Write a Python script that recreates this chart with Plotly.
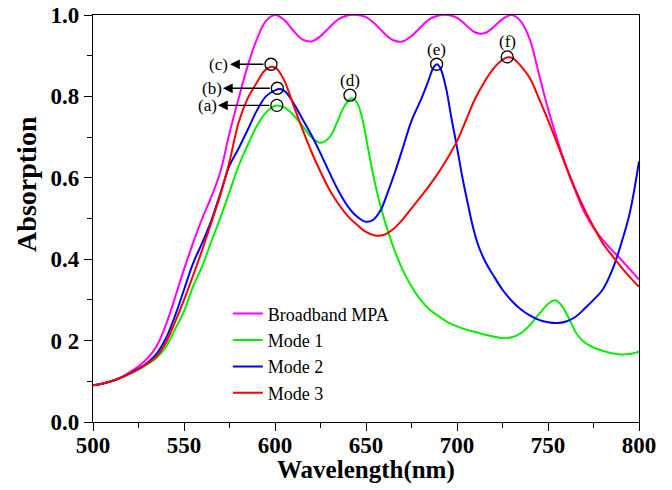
import plotly.graph_objects as go

# ---------------- data ----------------
mpa_x = [500, 505, 510, 515, 520, 525, 530, 535, 540, 545, 550, 555, 560, 565, 570, 575, 580, 585, 590,
         595, 600, 605, 610, 615, 620, 625, 630, 635, 640, 645, 650, 655, 660, 665, 670, 675, 680, 685,
         690, 695, 700, 705, 710, 715, 720, 725, 730, 735, 740, 745, 750, 755, 760, 765, 770, 775, 780,
         785, 790, 795, 800]
mpa_y = [0.090, 0.094, 0.100, 0.109, 0.122, 0.137, 0.157, 0.187, 0.238, 0.305, 0.375, 0.44, 0.50, 0.553,
         0.615, 0.71, 0.795, 0.875, 0.94, 0.985, 1.0, 0.988, 0.962, 0.94, 0.935, 0.948, 0.97, 0.99, 0.999,
         1.0, 0.995, 0.978, 0.955, 0.938, 0.935, 0.948, 0.97, 0.99, 0.999, 1.0, 0.993, 0.975, 0.957, 0.955,
         0.97, 0.99, 1.0, 0.985, 0.94, 0.855, 0.77, 0.695, 0.627, 0.568, 0.515, 0.477, 0.448, 0.423, 0.40,
         0.375, 0.35]

m1_x = [500, 505, 510, 515, 520, 525, 530, 535, 540, 545, 550, 555, 560, 565, 570, 575, 580, 585, 590,
        595, 600, 605, 610, 615, 620, 625, 630, 634, 638, 642, 645, 648, 651, 655, 660, 665, 670, 675,
        680, 685, 690, 695, 700, 705, 710, 715, 720, 725, 730, 735, 740, 745, 750, 754, 758, 762, 766,
        770, 775, 780, 785, 790, 795, 800]
m1_y = [0.09, 0.094, 0.10, 0.108, 0.118, 0.129, 0.142, 0.158, 0.184, 0.227, 0.272, 0.333, 0.383, 0.443,
        0.502, 0.565, 0.629, 0.68, 0.727, 0.76, 0.777, 0.773, 0.755, 0.728, 0.70, 0.686, 0.70, 0.735, 0.775,
        0.795, 0.785, 0.745, 0.675, 0.585, 0.498, 0.43, 0.375, 0.333, 0.30, 0.276, 0.26, 0.245, 0.235,
        0.227, 0.221, 0.215, 0.21, 0.206, 0.208, 0.218, 0.238, 0.265, 0.29, 0.299, 0.283, 0.25, 0.215,
        0.196, 0.183, 0.175, 0.169, 0.166, 0.167, 0.173]

m2_x = [500, 505, 510, 515, 520, 525, 530, 535, 540, 545, 550, 555, 560, 565, 570, 575, 580, 585, 590,
        595, 600, 603, 606, 610, 615, 620, 625, 630, 635, 640, 645, 650, 654, 658, 662, 666, 670, 675,
        680, 684, 687, 689, 691, 694, 697, 700, 703, 706, 709, 712, 716, 720, 725, 730, 735, 740, 745,
        750, 755, 760, 765, 770, 775, 780, 785, 790, 795, 800]
m2_y = [0.09, 0.094, 0.10, 0.108, 0.119, 0.131, 0.146, 0.168, 0.205, 0.26, 0.325, 0.39, 0.44, 0.495,
        0.562, 0.63, 0.672, 0.718, 0.765, 0.80, 0.815, 0.818, 0.81, 0.785, 0.745, 0.705, 0.66, 0.612,
        0.567, 0.53, 0.505, 0.492, 0.497, 0.52, 0.565, 0.615, 0.67, 0.74, 0.79, 0.835, 0.87, 0.879, 0.868,
        0.82, 0.745, 0.675, 0.60, 0.535, 0.475, 0.43, 0.39, 0.36, 0.325, 0.298, 0.277, 0.262, 0.251,
        0.245, 0.243, 0.247, 0.258, 0.278, 0.30, 0.325, 0.37, 0.435, 0.515, 0.64]

m3_x = [500, 505, 510, 515, 520, 525, 530, 535, 540, 545, 550, 555, 560, 565, 570, 575, 580, 585, 590,
        594, 598, 601, 605, 610, 615, 620, 625, 630, 635, 640, 645, 650, 655, 660, 665, 670, 675, 680,
        685, 690, 695, 700, 705, 710, 715, 720, 725, 728, 731, 735, 740, 745, 750, 755, 760, 765, 770,
        775, 780, 785, 790, 795, 800]
m3_y = [0.09, 0.094, 0.10, 0.108, 0.118, 0.13, 0.144, 0.162, 0.195, 0.245, 0.30, 0.36, 0.423, 0.49,
        0.558, 0.64, 0.736, 0.795, 0.834, 0.862, 0.873, 0.868, 0.84, 0.78, 0.72, 0.664, 0.615, 0.57,
        0.535, 0.506, 0.485, 0.467, 0.458, 0.46, 0.474, 0.497, 0.525, 0.553, 0.582, 0.614, 0.65, 0.69,
        0.742, 0.795, 0.835, 0.868, 0.89, 0.896, 0.893, 0.875, 0.845, 0.795, 0.742, 0.685, 0.627, 0.572,
        0.523, 0.48, 0.44, 0.41, 0.382, 0.356, 0.332]

series_names = ["Broadband MPA", "Mode 1", "Mode 2", "Mode 3"]
series_colors = ["#FF00FF", "#00EE00", "#0000FF", "#FF0000"]

# marked peaks
peak_labels = ["(a)", "(b)", "(c)", "(d)", "(e)", "(f)"]
peak_x = [601, 601.3, 597.8, 641.2, 688.8, 727.6]
peak_y = [0.778, 0.82, 0.879, 0.803, 0.879, 0.897]
# left-pointing arrow tips / label centers for (a),(b),(c)
arrow_tip_x = [568.7, 571.4, 575.3]
arrow_label_x = [562.9, 565.2, 569.2]

y_tickvals = [0.0, 0.2, 0.4, 0.6, 0.8, 1.0]
y_ticktext = ["0.0", "0 2", "0.4", "0.6", "0.8", "1.0"]
x_tickvals = [500, 550, 600, 650, 700, 750, 800]

SERIF = "Liberation Serif, Times New Roman, Times, serif"

# ---------------- figure ----------------
fig = go.Figure()
for xs, ys, name, col in zip([mpa_x, m1_x, m2_x, m3_x], [mpa_y, m1_y, m2_y, m3_y],
                             series_names, series_colors):
    fig.add_trace(go.Scatter(x=xs, y=ys, mode="lines", name=name,
                             line=dict(color=col, width=2, shape="spline", smoothing=1.0)))

# circles at peaks
for px, py in zip(peak_x, peak_y):
    fig.add_shape(type="circle", xref="x", yref="y", xsizemode="pixel", ysizemode="pixel",
                  xanchor=px, yanchor=py, x0=-6, x1=6, y0=-6, y1=6,
                  line=dict(color="black", width=1.3))

# arrows and labels for (a),(b),(c)
for i in range(3):
    fig.add_annotation(x=arrow_tip_x[i], y=peak_y[i], ax=peak_x[i] - 3.3, ay=peak_y[i],
                       axref="x", ayref="y", xref="x", yref="y", text="", showarrow=True,
                       arrowhead=2, arrowsize=1.5, arrowwidth=1.3, arrowcolor="black")
    fig.add_annotation(x=arrow_label_x[i], y=peak_y[i], xref="x", yref="y", text=peak_labels[i],
                       showarrow=False, xanchor="center", yanchor="middle",
                       font=dict(family=SERIF, size=17, color="black"))

# labels above (d),(e),(f)
for i in range(3, 6):
    fig.add_annotation(x=peak_x[i], y=peak_y[i], xref="x", yref="y", text=peak_labels[i],
                       showarrow=False, xanchor="center", yanchor="middle", yshift=15,
                       font=dict(family=SERIF, size=17, color="black"))

# axis titles
fig.add_annotation(x=0.5, y=0, xref="paper", yref="paper", text="<b>Wavelength(nm)</b>",
                   showarrow=False, xanchor="center", yanchor="middle", yshift=-48,
                   font=dict(family=SERIF, size=25, color="black"))
fig.add_annotation(x=0, y=0.585, xref="paper", yref="paper", text="<b>Absorption</b>",
                   showarrow=False, xanchor="center", yanchor="middle", xshift=-66, textangle=-90,
                   font=dict(family=SERIF, size=28, color="black"))

tickfont = dict(family=SERIF, size=23, color="black")
fig.update_layout(
    width=672, height=490,
    margin=dict(l=93, r=33, t=15, b=68),
    paper_bgcolor="white", plot_bgcolor="white",
    font=dict(family=SERIF, color="black"),
    showlegend=True,
    legend=dict(x=0.247, y=0.311, xanchor="left", yanchor="top",
                bgcolor="rgba(0,0,0,0)", font=dict(family=SERIF, size=18, color="black"),
                tracegroupgap=0),
    xaxis=dict(range=[500, 800], tickvals=x_tickvals, ticktext=["<b>%d</b>" % v for v in x_tickvals],
               ticks="outside", ticklen=8, tickwidth=1.2, automargin=False, ticklabelstandoff=-6,
               tickcolor="black", showline=True, linecolor="black", linewidth=1.2, mirror=True,
               showgrid=False, zeroline=False, tickfont=tickfont,
               minor=dict(ticks="outside", ticklen=5, dtick=25, tickcolor="black", tickwidth=1)),
    yaxis=dict(range=[0, 1.0], tickvals=y_tickvals, ticktext=["<b>%s</b>" % t for t in y_ticktext],
               ticks="outside", ticklen=8, tickwidth=1.2, tickcolor="black", automargin=False,
               showline=True, linecolor="black", linewidth=1.2, mirror=True,
               showgrid=False, zeroline=False, tickfont=tickfont,
               minor=dict(ticks="outside", ticklen=5, dtick=0.1, tickcolor="black", tickwidth=1)),
)

fig.write_html("out.html")
